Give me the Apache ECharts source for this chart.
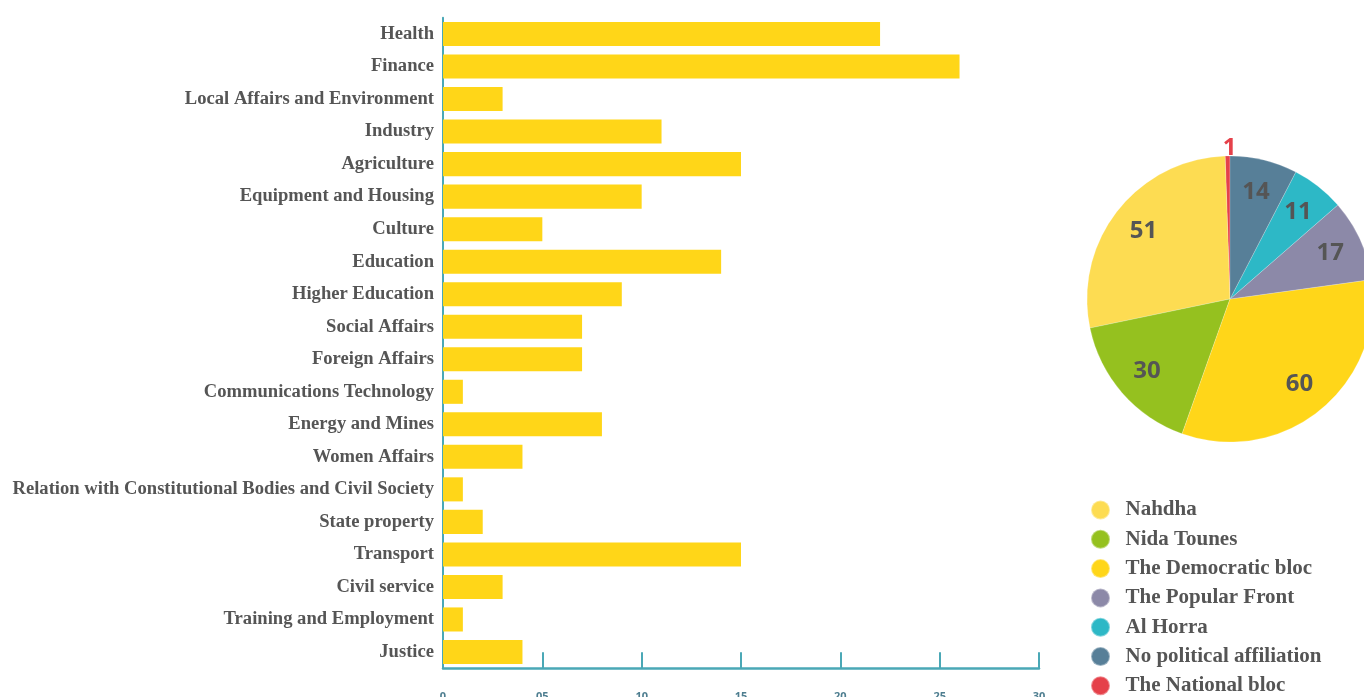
<!DOCTYPE html>
<html><head><meta charset="utf-8">
<script src="https://cdn.jsdelivr.net/npm/echarts@6/dist/echarts.min.js"></script>
<style>html,body{margin:0;padding:0;background:#fff}#c{width:1364px;height:697px}</style>
</head><body><div id="c"></div>
<script>
const categories = ['Health','Finance','Local Affairs and Environment','Industry','Agriculture','Equipment and Housing','Culture','Education','Higher Education','Social Affairs','Foreign Affairs','Communications Technology','Energy and Mines','Women Affairs','Relation with Constitutional Bodies and Civil Society','State property','Transport','Civil service','Training and Employment','Justice'];
const barValues = [22,26,3,11,15,10,5,14,9,7,7,1,8,4,1,2,15,3,1,4];
const tickLabels = ['0','05','10','15','20','25','30'];
const parties = ['Nahdha','Nida Tounes','The Democratic bloc','The Popular Front','Al Horra','No political affiliation','The National bloc'];
const seats = [51,30,60,17,11,14,1];
const partyColors = ['#FDDC52','#95C11F','#FFD619','#8C89A8','#2DB8C6','#577F98','#E5414A'];

const chart = echarts.init(document.getElementById('c'));
// pie drawn counterclockwise from 12 o'clock, starting with the last party (National bloc)
const order = [6,0,1,2,3,4,5];
const pieData = order.map(i=>({name:parties[i],value:seats[i],itemStyle:{color:partyColors[i]}}));
const labelData = order.map(i=>{
  const d = {name:parties[i],value:seats[i],itemStyle:{color:'rgba(0,0,0,0)'}};
  if (i === 6) {
    d.label = {position:'outside', color:'#E5414A'};
    d.labelLine = {show:false, length:0, length2:0};
  }
  return d;
});
chart.setOption({
  animation:false,
  grid:{left:443,top:17.75,width:596,height:650.5,containLabel:false,outerBoundsMode:'none'},
  xAxis:{type:'value',min:0,max:30,interval:5,
    axisLine:{show:true,lineStyle:{color:'#4AA8B6',width:2.5}},
    axisTick:{show:true,inside:true,length:16,lineStyle:{color:'#4AA8B6',width:2}},
    splitLine:{show:false},
    axisLabel:{margin:23,color:'#4E7E90',fontSize:11,fontWeight:'bold',fontFamily:'Open Sans',
      formatter:(v)=>tickLabels[Math.round(v/5)]}},
  yAxis:{type:'category',data:categories,inverse:true,
    axisLine:{show:true,lineStyle:{color:'#4AA8B6',width:2}},
    axisTick:{show:false},
    axisLabel:{margin:9,color:'#555',fontSize:18.6,fontWeight:'bold',fontFamily:'Liberation Serif',lineHeight:22,padding:[4,0,0,0]}},
  legend:{orient:'vertical',left:1090,top:499.5,padding:0,itemWidth:20,itemHeight:19,itemGap:8.3,icon:'circle',
    data:parties,textStyle:{color:'#555',fontSize:21,fontWeight:'bold',fontFamily:'Liberation Serif',padding:[0,0,0,10]}},
  series:[
    {type:'bar',data:barValues,barCategoryGap:'26%',itemStyle:{color:'#FFD618'},silent:true},
    {type:'pie',center:[1230,299],radius:143,startAngle:90,clockwise:false,data:pieData,
      label:{show:false},labelLine:{show:false},itemStyle:{borderColor:'rgba(255,255,255,0.4)',borderWidth:0.5}},
    {type:'pie',center:[1230,299],radius:[71,143],startAngle:90,clockwise:false,data:labelData,silent:true,
      legendHoverLink:false,
      labelLayout:(p)=> p.dataIndex===0 ? {align:'center', dx:7, dy:-8} : {},
      label:{show:true,position:'inside',formatter:'{c}',color:'#555',fontSize:24,fontWeight:'bold',fontFamily:'Open Sans'},
      labelLine:{show:false}}
  ]
});
</script></body></html>
